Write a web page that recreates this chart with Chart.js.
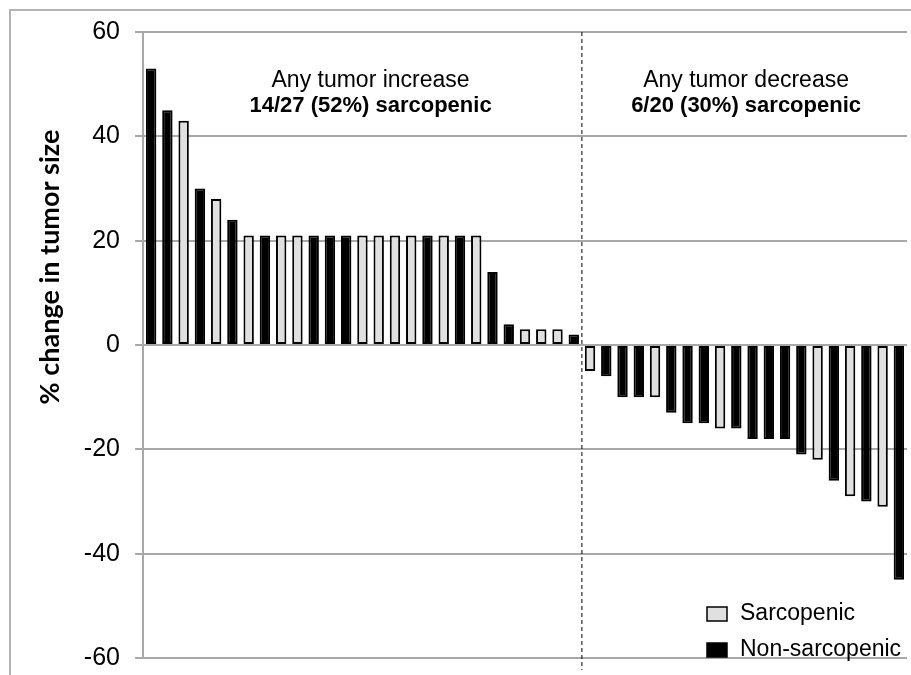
<!DOCTYPE html>
<html>
<head>
<meta charset="utf-8">
<script src="https://cdn.jsdelivr.net/npm/chart.js@4.4.0/dist/chart.umd.min.js"></script>
<style>
  html, body { margin: 0; padding: 0; background: #fff; }
  #wrap { width: 911px; height: 675px; }
</style>
</head>
<body>
<div id="wrap"><canvas id="myChart" width="911" height="675"></canvas></div>
<script>
// % change in tumor size, one bar per patient, sorted
const changes = [53, 45, 43, 30, 28, 24, 21, 21, 21, 21, 21, 21, 21, 21, 21, 21, 21, 21, 21, 21, 21, 14, 4, 3, 3, 3, 2,
                 -5, -6, -10, -10, -10, -13, -15, -15, -16, -16, -18, -18, -18, -21, -22, -26, -29, -30, -31, -45];
// S = sarcopenic, N = non-sarcopenic
const groups = ['N','N','S','N','S','N','S','N','S','S','N','N','N','S','S','S','S','N','S','N','S','N','N','S','S','S','N',
                'S','N','N','N','S','N','N','N','S','N','N','N','N','N','S','N','S','N','S','N'];
const patients = changes.map((v, i) => String(i + 1));
const yTicks = [-60, -40, -20, 0, 20, 40, 60];
const increaseText = ['Any tumor increase', '14/27 (52%) sarcopenic'];
const decreaseText = ['Any tumor decrease', '6/20 (30%) sarcopenic'];
const yTitle = '% change in tumor size';

const sarcoData = changes.map((v, i) => groups[i] === 'S' ? v : null);
const nonSarcoData = changes.map((v, i) => groups[i] === 'N' ? v : null);

const gridGray = '#a8a8a8';

const decorations = {
    id: 'decorations',
    beforeDraw(chart) {
        const ctx = chart.ctx;
        ctx.save();
        ctx.strokeStyle = '#b4b4b4';
        ctx.lineWidth = 2;
        ctx.strokeRect(10, 10, 1000, 1000);
        ctx.restore();
    },
    afterDatasetsDraw(chart) {
        const ctx = chart.ctx;
        const x = chart.scales.x;
        const y = chart.scales.y;
        const area = chart.chartArea;
        ctx.save();

        // divider between increase and decrease
        const split = (x.getPixelForValue(26) + x.getPixelForValue(27)) / 2;
        ctx.strokeStyle = '#000';
        ctx.lineWidth = 1;
        ctx.setLineDash([4, 3]);
        ctx.beginPath();
        ctx.moveTo(split, area.top);
        ctx.lineTo(split, area.bottom + 12);
        ctx.stroke();
        ctx.setLineDash([]);

        // annotations
        ctx.fillStyle = '#000';
        ctx.textAlign = 'center';
        ctx.textBaseline = 'middle';
        const lx = x.getPixelForValue(13.5);
        const rx = x.getPixelForValue(36.6);
        ctx.font = '23px "Liberation Sans", Arial, sans-serif';
        ctx.fillText(increaseText[0], lx, y.getPixelForValue(50.6));
        ctx.fillText(decreaseText[0], rx, y.getPixelForValue(50.6));
        ctx.font = 'bold 22px "Liberation Sans", Arial, sans-serif';
        ctx.fillText(increaseText[1], lx, y.getPixelForValue(45.8));
        ctx.fillText(decreaseText[1], rx, y.getPixelForValue(45.8));

        // y axis title
        ctx.save();
        ctx.translate(50, 267);
        ctx.rotate(-Math.PI / 2);
        ctx.font = 'bold 27px Lato, "Open Sans", sans-serif';
        ctx.fillText(yTitle, 0, 0);
        ctx.restore();

        // legend
        ctx.textAlign = 'left';
        ctx.font = '23px "Liberation Sans", Arial, sans-serif';
        chart.data.datasets.forEach((ds, i) => {
            const by = 607 + i * 36;
            ctx.fillStyle = ds.backgroundColor;
            ctx.fillRect(707, by, 20, 14);
            ctx.strokeStyle = '#000';
            ctx.lineWidth = 1.5;
            ctx.strokeRect(707, by, 20, 14);
            ctx.fillStyle = '#000';
            ctx.fillText(ds.label, 740, by + 7);
        });
        ctx.restore();
    }
};

const chart = new Chart(document.getElementById('myChart'), {
    type: 'bar',
    data: {
        labels: patients,
        datasets: [
            {
                label: 'Sarcopenic',
                data: sarcoData,
                backgroundColor: '#e0e0e0',
                borderColor: '#000',
                borderWidth: 2,
                borderSkipped: false
            },
            {
                label: 'Non-sarcopenic',
                data: nonSarcoData,
                backgroundColor: '#000',
                borderColor: '#000',
                borderWidth: 2,
                borderSkipped: false
            }
        ]
    },
    options: {
        responsive: false,
        animation: false,
        layout: { padding: { top: 32, right: 4, bottom: 17, left: 0 } },
        datasets: { bar: { grouped: false, barPercentage: 0.64, categoryPercentage: 1 } },
        scales: {
            x: { display: false },
            y: {
                min: -60,
                max: 60,
                afterBuildTicks: (scale) => { scale.ticks = yTicks.map(v => ({ value: v })); },
                afterFit: (scale) => {
                    scale.width = 143;
                    scale.paddingTop = 15;
                    scale.paddingBottom = 15;
                },
                grid: { color: gridGray, lineWidth: 2, tickLength: 8, drawTicks: true },
                border: { color: gridGray, width: 2 },
                ticks: {
                    color: '#000',
                    padding: 15,
                    font: { family: '"Liberation Sans", Arial, sans-serif', size: 25 }
                }
            }
        },
        plugins: {
            legend: { display: false },
            tooltip: { enabled: false }
        }
    },
    plugins: [decorations]
});
</script>
</body>
</html>
